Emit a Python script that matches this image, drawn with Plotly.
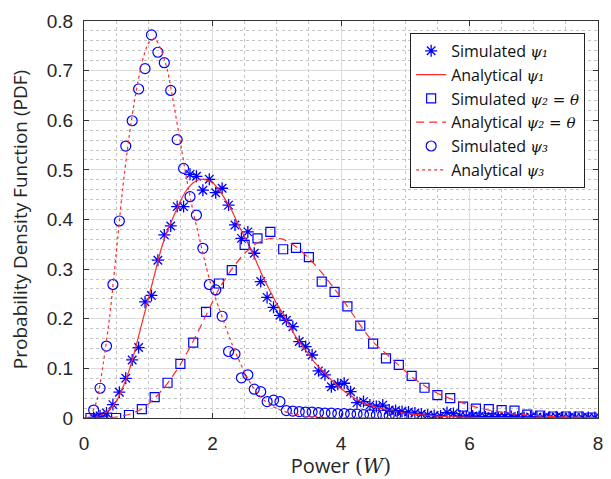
import plotly.graph_objects as go

# ---- data ----
# simulated histograms (bin centres)
sim_x_fine = [round(0.15 + 0.1 * i, 2) for i in range(79)]      # psi1 star bins
sim1_y = [0.001, 0.004, 0.010, 0.027, 0.052, 0.080, 0.117, 0.142, 0.234, 0.247,
          0.318, 0.369, 0.387, 0.426, 0.426, 0.491, 0.487, 0.459, 0.481, 0.454,
          0.463, 0.429, 0.389, 0.362, 0.375, 0.332, 0.275, 0.243, 0.223, 0.207,
          0.197, 0.184, 0.154, 0.144, 0.127, 0.095, 0.087, 0.063, 0.068, 0.070,
          0.053, 0.031, 0.033, 0.026, 0.023, 0.026, 0.016, 0.015, 0.013,
          0.012, 0.010, 0.008, 0.006, 0.005, 0.004, 0.011, 0.009, 0.004, 0.003,
          0.004, 0.003, 0.002, 0.003, 0.002, 0.002, 0.003, 0.002, 0.001, 0.002,
          0.002, 0.001, 0.001, 0.002, 0.001, 0.001, 0.001, 0.001, 0.001, 0.001]

sim2_x = [round(0.1 + 0.2 * i, 2) for i in range(40)]
sim2_y = [0.000, 0.000, 0.000, 0.006, 0.018, 0.042, 0.071, 0.109, 0.152, 0.214,
          0.271, 0.298, 0.349, 0.362, 0.375, 0.340, 0.343, 0.324, 0.275, 0.254,
          0.225, 0.186, 0.150, 0.120, 0.107, 0.085, 0.061, 0.046, 0.040, 0.023,
          0.019, 0.018, 0.016, 0.015, 0.007, 0.005, 0.003, 0.003, 0.003, 0.001]

sim3_x = sim_x_fine[:49]
sim3_y = [0.016, 0.060, 0.145, 0.269, 0.397, 0.548, 0.599, 0.663, 0.704, 0.772,
          0.737, 0.716, 0.660, 0.561, 0.503, 0.446, 0.409, 0.342, 0.269, 0.258,
          0.205, 0.134, 0.129, 0.081, 0.087, 0.058, 0.053, 0.033, 0.036, 0.033,
          0.015, 0.014, 0.013, 0.012, 0.012, 0.011, 0.010, 0.010, 0.009, 0.009,
          0.008, 0.008, 0.007, 0.007, 0.006, 0.006, 0.005, 0.005, 0.004]

# analytical curves
ana1_x = [0.0, 0.1, 0.2, 0.3, 0.4, 0.5, 0.6, 0.7, 0.8, 0.9, 1.0, 1.1, 1.2, 1.3, 1.4,
          1.5, 1.6, 1.7, 1.8, 1.9, 2.0, 2.1, 2.2, 2.3, 2.4, 2.5, 2.6, 2.7, 2.8, 2.9,
          3.0, 3.1, 3.2, 3.3, 3.4, 3.5, 3.6, 3.7, 3.8, 3.9, 4.0, 4.2, 4.4, 4.6, 4.8,
          5.0, 5.3, 5.6, 6.0, 6.5, 7.0, 7.5, 8.0]
ana1_y = [0.0, 0.0, 0.002, 0.008, 0.017, 0.033, 0.060, 0.095, 0.140, 0.190, 0.240,
          0.290, 0.340, 0.378, 0.408, 0.437, 0.460, 0.474, 0.481, 0.480, 0.474,
          0.460, 0.440, 0.418, 0.390, 0.365, 0.340, 0.310, 0.280, 0.255, 0.230,
          0.210, 0.185, 0.163, 0.145, 0.128, 0.110, 0.097, 0.083, 0.070, 0.059,
          0.041, 0.028, 0.020, 0.014, 0.010, 0.006, 0.003, 0.0015, 0.0006, 0.0002,
          0.0001, 0.0]

ana2_x = [0.0, 0.1, 0.3, 0.5, 0.7, 0.9, 1.1, 1.3, 1.5, 1.7, 1.9, 2.1, 2.3, 2.5, 2.7,
          2.9, 3.1, 3.3, 3.5, 3.7, 3.9, 4.1, 4.3, 4.5, 4.7, 4.9, 5.1, 5.3, 5.5, 5.7,
          5.9, 6.1, 6.3, 6.5, 6.7, 6.9, 7.1, 7.3, 7.5, 7.7, 7.9, 8.0]
ana2_y = [0.0, 0.0, 0.0005, 0.002, 0.007, 0.018, 0.040, 0.070, 0.108, 0.155, 0.207,
          0.260, 0.300, 0.332, 0.353, 0.362, 0.360, 0.345, 0.322, 0.293, 0.260,
          0.225, 0.187, 0.153, 0.130, 0.106, 0.083, 0.065, 0.050, 0.039, 0.030,
          0.022, 0.016, 0.012, 0.008, 0.006, 0.004, 0.003, 0.002, 0.0015, 0.001,
          0.001]

ana3_x = [0.0, 0.1, 0.2, 0.3, 0.4, 0.5, 0.6, 0.7, 0.8, 0.9, 1.0, 1.1, 1.2, 1.3, 1.4,
          1.5, 1.6, 1.7, 1.8, 1.9, 2.0, 2.1, 2.2, 2.3, 2.4, 2.5, 2.6, 2.7, 2.8, 2.9,
          3.0, 3.2, 3.4, 3.6, 3.8, 4.0, 5.0, 6.0, 7.0, 8.0]
ana3_y = [0.0, 0.005, 0.035, 0.110, 0.205, 0.330, 0.460, 0.565, 0.650, 0.715,
          0.755, 0.765, 0.742, 0.700, 0.630, 0.555, 0.480, 0.415, 0.360, 0.305,
          0.258, 0.222, 0.185, 0.150, 0.120, 0.092, 0.068, 0.050, 0.036, 0.026,
          0.019, 0.010, 0.005, 0.003, 0.001, 0.0005, 0.0, 0.0, 0.0, 0.0]

x_ticks = [0, 2, 4, 6, 8]
y_ticks = [0, 0.1, 0.2, 0.3, 0.4, 0.5, 0.6, 0.7, 0.8]
y_tick_labels = ["0", "0.1", "0.2", "0.3", "0.4", "0.5", "0.6", "0.7", "0.8"]

BLUE = "#0000ff"
RED = "#ff2a2a"
SERIF = "DejaVu Serif"


def psi(sub, extra=""):
    return (f"<span style=\"font-family:'{SERIF}';font-size:15px\"><i>ψ{sub}{extra}</i></span>")


names = [
    "Simulated " + psi("₁"),
    "Analytical " + psi("₁"),
    "Simulated " + psi("₂", " = θ"),
    "Analytical " + psi("₂", " = θ"),
    "Simulated " + psi("₃"),
    "Analytical " + psi("₃"),
]

fig = go.Figure()
fig.add_trace(go.Scatter(x=sim_x_fine, y=sim1_y, mode="markers", name=names[0],
                         marker=dict(symbol="asterisk-open", size=10, color=BLUE,
                                     line=dict(color=BLUE, width=1.3))))
fig.add_trace(go.Scatter(x=ana1_x, y=ana1_y, mode="lines", name=names[1],
                         line=dict(color=RED, width=1.2, shape="spline", smoothing=0.6)))
fig.add_trace(go.Scatter(x=sim2_x, y=sim2_y, mode="markers", name=names[2],
                         marker=dict(symbol="square-open", size=9, color=BLUE,
                                     line=dict(color=BLUE, width=1.2))))
fig.add_trace(go.Scatter(x=ana2_x, y=ana2_y, mode="lines", name=names[3],
                         line=dict(color=RED, width=1.2, dash="8px,5px",
                                   shape="spline", smoothing=0.6)))
fig.add_trace(go.Scatter(x=sim3_x, y=sim3_y, mode="markers", name=names[4],
                         marker=dict(symbol="circle-open", size=10, color=BLUE,
                                     line=dict(color=BLUE, width=1.2))))
fig.add_trace(go.Scatter(x=ana3_x, y=ana3_y, mode="lines", name=names[5],
                         line=dict(color=RED, width=1.2, dash="dot",
                                   shape="spline", smoothing=0.6)))

axis_common = dict(
    showline=True, linecolor="#333333", linewidth=1, mirror="ticks",
    ticks="inside", ticklen=5, tickcolor="#333333", tickwidth=1,
    showgrid=True, gridcolor="#dcdcdc", gridwidth=1, zeroline=False,
    automargin=False,
    tickfont=dict(family="Liberation Sans", size=19, color="#262626"),
)

fig.update_xaxes(range=[0, 8], tickvals=x_ticks, ticklabelstandoff=8,
                 minor=dict(dtick=0.5, showgrid=True, gridcolor="#c4c4c4",
                            griddash="dot", gridwidth=1),
                 title=dict(text="Power <span style=\"font-family:'DejaVu Serif'\">(<i>W</i>)</span>",
                            font=dict(family="Open Sans", size=20, color="#262626"),
                            standoff=4),
                 **axis_common)
fig.update_yaxes(range=[0, 0.8], tickvals=y_ticks, ticktext=y_tick_labels,
                 ticklabelstandoff=6,
                 minor=dict(dtick=0.02, showgrid=True, gridcolor="#c4c4c4",
                            griddash="dot", gridwidth=1),
                 title=dict(text="Probability Density Function (PDF)",
                            font=dict(family="Open Sans", size=19, color="#262626"),
                            standoff=14),
                 **axis_common)

fig.update_layout(
    width=611, height=479,
    margin=dict(l=84, r=13, t=21, b=61),
    paper_bgcolor="white", plot_bgcolor="white",
    showlegend=True,
    legend=dict(x=0.975, y=0.97, xanchor="right", yanchor="top",
                bgcolor="white", bordercolor="#222222", borderwidth=1,
                font=dict(family="Open Sans", size=16, color="#111111"),
                tracegroupgap=0, itemwidth=30),
)

fig.write_html("out.html", config={"displayModeBar": False},
               post_script="document.body.style.margin='0';document.body.style.padding='0';")
